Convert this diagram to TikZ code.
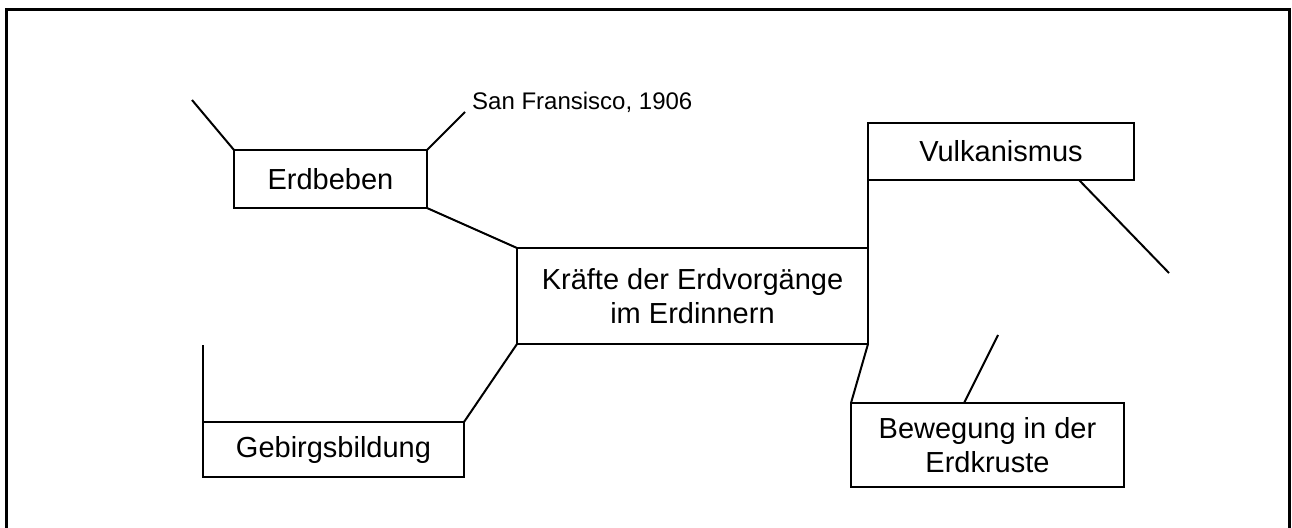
\documentclass[tikz,border=0pt]{standalone}
\usepackage{fontspec}
\setmainfont{Liberation Sans}
\usetikzlibrary{calc}
\begin{document}
\begin{tikzpicture}[x=1pt,y=-1pt,
  box/.style={draw,line width=2pt,inner sep=0pt,outer sep=0pt,align=center,
    font=\fontsize{29}{34}\selectfont},
  conn/.style={line width=2pt},
  frame/.style={line width=3pt}]
\useasboundingbox (0,0) rectangle (1292,527);
\draw[frame] (6,530) -- (6,10) -- (1289,10) -- (1289,530);
\node[box,minimum width=193pt,minimum height=58pt] (erd) at (330.5,179) {Erdbeben};
\node[box,minimum width=351pt,minimum height=96pt] (mid) at (692.5,296) {Kräfte der Erdvorgänge\\im Erdinnern};
\node[box,minimum width=266pt,minimum height=57pt] (vul) at (1001,151.5) {Vulkanismus};
\node[box,minimum width=273pt,minimum height=84pt] (bew) at (987.5,445) {Bewegung in der\\Erdkruste};
\node[box,minimum width=261pt,minimum height=55pt] (geb) at (333.5,449.5) {Gebirgsbildung};
\node[anchor=base west,inner sep=0pt,font=\fontsize{24}{28}\selectfont] (sf) at (472,109) {San Fransisco, 1906};
\coordinate (e1) at (192,100);
\coordinate (e2) at (465,112);
\coordinate (v1) at (1169,273);
\coordinate (b1) at (998,335);
\coordinate (g1) at (203,345);
\draw[conn] (erd.north west) -- (e1);
\draw[conn] (erd.north east) -- (e2);
\draw[conn] (erd.south east) -- (mid.north west);
\draw[conn] (mid.south west) -- (geb.north east);
\draw[conn] (vul.south west) -- (mid.north east);
\draw[conn] (mid.south east) -- (bew.north west);
\draw[conn] ([xshift=78pt]vul.south) -- (v1);
\draw[conn] ([xshift=-23.5pt]bew.north) -- (b1);
\draw[conn] (geb.north west) -- (g1);
\end{tikzpicture}
\end{document}
